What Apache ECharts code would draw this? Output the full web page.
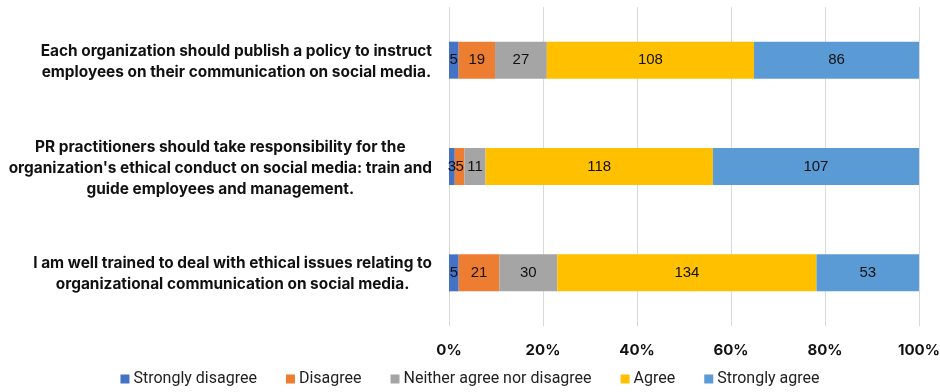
<!DOCTYPE html>
<html>
<head>
<meta charset="utf-8">
<script src="https://cdn.jsdelivr.net/npm/echarts@6/dist/echarts.min.js"></script>
<style>
  html, body { margin: 0; padding: 0; background: #fff; }
  #chart { width: 940px; height: 392px; }
</style>
</head>
<body>
<div id="chart"></div>
<script>
// Survey statements (top to bottom)
const statements = [
  'Each organization should publish a policy to instruct\nemployees on their communication on social media.',
  "PR practitioners should take responsibility for the\norganization's ethical conduct on social media: train and\nguide employees and management.",
  'I am well trained to deal with ethical issues relating to\norganizational communication on social media.'
];

// Response counts per statement
const responseNames = ['Strongly disagree', 'Disagree', 'Neither agree nor disagree', 'Agree', 'Strongly agree'];
const stronglyDisagree = [5, 3, 5];
const disagree = [19, 5, 21];
const neither = [27, 11, 30];
const agree = [108, 118, 134];
const stronglyAgree = [86, 107, 53];

const tickLabels = ['0%', '20%', '40%', '60%', '80%', '100%'];

const colors = ['#4472C4', '#ED7D31', '#A5A5A5', '#FFC000', '#5B9BD5'];

const counts = [stronglyDisagree, disagree, neither, agree, stronglyAgree];
const totals = statements.map((_, i) => counts.reduce((s, arr) => s + arr[i], 0));

const series = counts.map((arr, k) => ({
  name: responseNames[k],
  type: 'bar',
  stack: 'total',
  barWidth: 37,
  itemStyle: { color: colors[k] },
  label: {
    show: true,
    position: 'inside',
    color: '#111',
    fontFamily: 'Liberation Sans, Arial, sans-serif',
    fontSize: 15,
    formatter: p => String(arr[p.dataIndex])
  },
  data: arr.map((v, i) => v / totals[i])
}));

const chart = echarts.init(document.getElementById('chart'), null, { renderer: 'canvas' });
chart.setOption({
  animation: false,
  grid: { left: 449, right: 21, top: 7, bottom: 66, containLabel: false, outerBoundsMode: 'none' },
  legend: {
    bottom: 0,
    left: 'center',
    itemWidth: 9,
    itemHeight: 9,
    itemGap: 29,
    icon: 'rect',
    textStyle: { fontFamily: 'Roboto, sans-serif', fontSize: 16, color: '#222', padding: [0, 0, 0, -1] },
    data: responseNames
  },
  xAxis: {
    type: 'value',
    min: 0,
    max: 1,
    interval: 0.2,
    axisLine: { show: false },
    axisTick: { show: false },
    splitLine: { show: true, lineStyle: { color: '#d9d9d9', width: 1 } },
    axisLabel: {
      margin: 17,
      color: '#111',
      fontFamily: 'Inter, Roboto, sans-serif',
      fontWeight: 'bold',
      fontSize: 15,
      formatter: v => tickLabels[Math.round(v * 5)]
    }
  },
  yAxis: {
    type: 'category',
    inverse: true,
    data: statements,
    axisLine: { show: false },
    axisTick: { show: false },
    axisLabel: {
      margin: 17,
      align: 'right',
      formatter: v => v.split('\n').map(l => '{c|' + l + '}').join('\n'),
      rich: {
        c: {
          align: 'center',
          fontFamily: 'Inter, Roboto, sans-serif',
          fontWeight: 'bold',
          fontSize: 15.4,
          lineHeight: 21,
          color: '#111',
          padding: [3, 0, 0, 0]
        }
      }
    }
  },
  series: series
});
</script>
</body>
</html>
